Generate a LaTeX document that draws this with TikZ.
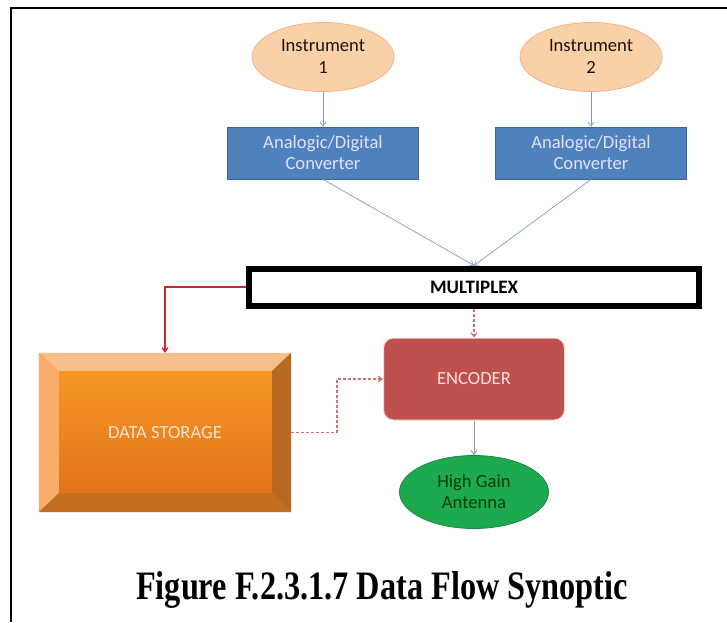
\documentclass[tikz,border=0pt]{standalone}
\usepackage{fontspec}
\setmainfont{Liberation Serif}
\newfontfamily\calibrifont{Carlito}
\usetikzlibrary{shapes.geometric,arrows.meta}
\definecolor{instrfill}{HTML}{FAD0A8}
\definecolor{instrdraw}{HTML}{F0B48A}
\definecolor{adcfill}{HTML}{4F81BD}
\definecolor{adcdraw}{HTML}{3A6699}
\definecolor{encfill}{HTML}{C0504D}
\definecolor{antfill}{HTML}{1DA94E}
\definecolor{antdraw}{HTML}{168A3E}
\definecolor{blueline}{HTML}{7F9CC0}
\definecolor{redline}{HTML}{C8282E}
\definecolor{reddash}{HTML}{CC7070}
\definecolor{grayline}{HTML}{9A9A9A}
\definecolor{dsface}{HTML}{F58A2A}
\definecolor{dsfacedark}{HTML}{E2741A}
\tikzset{
  lbl/.style={font=\calibrifont\fontsize{18.6}{21}\selectfont, align=center, inner sep=0pt},
  instr/.style={lbl, ellipse, fill=instrfill, draw=instrdraw, line width=0.8pt, minimum width=142pt, minimum height=69pt, text=black!85!brown, font=\calibrifont\fontsize{18.6}{22}\selectfont},
  adc/.style={lbl, rectangle, fill=adcfill, draw=adcdraw, line width=0.8pt, minimum width=191pt, minimum height=52pt, text=white!88!blue},
  mux/.style={lbl, rectangle, draw=black, line width=6pt, fill=white, minimum width=450pt, minimum height=37pt, font=\calibrifont\bfseries\fontsize{19}{21}\selectfont},
  enc/.style={lbl, rectangle, rounded corners=10pt, fill=encfill, draw=white!85!red, line width=1pt, minimum width=181pt, minimum height=82pt, text=white!88!red},
  ant/.style={lbl, ellipse, fill=antfill, draw=antdraw, line width=0.8pt, minimum width=149pt, minimum height=73pt, text=black!75!green},
  tip/.style={-{Straight Barb[length=4pt,width=6pt]}},
  bluearrow/.style={tip, draw=blueline, line width=0.7pt},
  redarrow/.style={tip, draw=redline, line width=1.4pt},
  dasharrow/.style={tip, draw=reddash, line width=1.1pt, dash pattern=on 3pt off 2pt},
  grayarrow/.style={tip, draw=grayline, line width=1pt},
}
\begin{document}
\begin{tikzpicture}[x=1pt,y=-1pt]
\useasboundingbox (0,0) rectangle (727,622);
\fill[white] (0,0) rectangle (727,622);
\draw[line width=1.3pt] (11,622) -- (11,8) -- (727,8);

\node[instr] (i1) at (323,57) {Instrument\\1};
\node[instr] (i2) at (591,57) {Instrument\\2};
\node[adc] (a1) at (323,153) {Analogic/Digital\\Converter};
\node[adc] (a2) at (591,153) {Analogic/Digital\\Converter};
\node[mux] (mux) at (474,287) {MULTIPLEX};
\node[enc] (enc) at (474,379) {ENCODER};
\node[ant] (ant) at (474,492) {High Gain\\Antenna};

% data storage bevel box
\node[lbl, minimum width=252pt, minimum height=159pt] (ds) at (165,432.5) {};
\fill[dsface] (ds.north west) rectangle (ds.south east);
\shade[top color=dsface!90!yellow, bottom color=dsfacedark] ([xshift=20pt,yshift=-18pt]ds.north west) rectangle ([xshift=-19pt,yshift=19pt]ds.south east);
\fill[white!45!dsface] (ds.north west) -- (ds.north east) -- ([xshift=-19pt,yshift=-18pt]ds.north east) -- ([xshift=20pt,yshift=-18pt]ds.north west) -- cycle;
\fill[white!30!dsface] (ds.north west) -- ([xshift=20pt,yshift=-18pt]ds.north west) -- ([xshift=20pt,yshift=19pt]ds.south west) -- (ds.south west) -- cycle;
\fill[black!25!dsface] (ds.north east) -- (ds.south east) -- ([xshift=-19pt,yshift=19pt]ds.south east) -- ([xshift=-19pt,yshift=-18pt]ds.north east) -- cycle;
\fill[black!20!dsface] (ds.south west) -- ([xshift=20pt,yshift=19pt]ds.south west) -- ([xshift=-19pt,yshift=19pt]ds.south east) -- (ds.south east) -- cycle;
\node[lbl, text=white!80!orange] at (ds.center) {DATA STORAGE};

\node[font=\bfseries\fontsize{32.3}{34}\selectfont, inner sep=0pt, anchor=base] (cap) at (382,599) {\scalebox{1}[1.25]{Figure F.2.3.1.7 Data Flow Synoptic}};

\coordinate (bend) at (337,432.5);
\draw[bluearrow] (i1) -- (a1);
\draw[bluearrow] (i2) -- (a2);
\draw[bluearrow] (a1.south) -- (mux.north);
\draw[bluearrow] (a2.south) -- (mux.north);
\draw[redarrow] (mux.west) -| (ds.north);
\draw[dasharrow] (mux.south) -- (enc.north);
\draw[dasharrow] (ds.east) -- (bend) |- (enc.west);
\draw[grayarrow] (enc.south) -- (ant.north);
\end{tikzpicture}
\end{document}
